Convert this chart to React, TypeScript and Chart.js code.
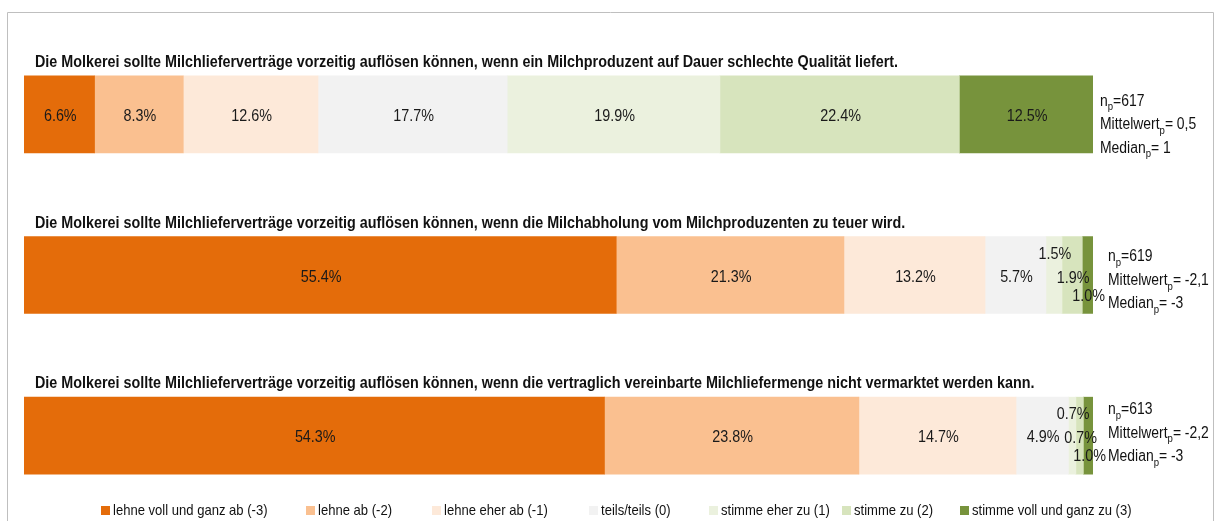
import React, { useEffect, useRef } from "react";
import { Chart, registerables } from "chart.js";

Chart.register(...registerables);

const questions = [
  "Die Molkerei sollte Milchlieferverträge vorzeitig auflösen können, wenn ein Milchproduzent auf Dauer schlechte Qualität liefert.",
  "Die Molkerei sollte Milchlieferverträge vorzeitig auflösen können, wenn die Milchabholung vom Milchproduzenten zu teuer wird.",
  "Die Molkerei sollte Milchlieferverträge vorzeitig auflösen können, wenn die vertraglich vereinbarte Milchliefermenge nicht vermarktet werden kann.",
];

const seriesLabels = [
  "lehne voll und ganz ab (-3)",
  "lehne ab (-2)",
  "lehne eher ab (-1)",
  "teils/teils (0)",
  "stimme eher zu (1)",
  "stimme zu (2)",
  "stimme voll und ganz zu (3)",
];

const lehneVollUndGanzAb = [6.6, 55.4, 54.3];
const lehneAb = [8.3, 21.3, 23.8];
const lehneEherAb = [12.6, 13.2, 14.7];
const teilsTeils = [17.7, 5.7, 4.9];
const stimmeEherZu = [19.9, 1.5, 0.7];
const stimmeZu = [22.4, 1.9, 0.7];
const stimmeVollUndGanzZu = [12.5, 1.0, 1.0];

const nValues = ["617", "619", "613"];
const meanValues = ["0,5", "-2,1", "-2,2"];
const medianValues = ["1", "-3", "-3"];

const colors = ["#E46C0A", "#FAC090", "#FDE9D9", "#F2F2F2", "#EBF1DE", "#D7E4BD", "#77933C"];

// layout (not data)
const FONT = "'Liberation Sans', Arial, sans-serif";
const NARROW = 0.87;
const statsX = [1100, 1108, 1108];
const statsOffset = [-13, -18, -26];
const legendX = [101, 306, 432, 589, 709, 842, 960];

const allSeries = [
  lehneVollUndGanzAb,
  lehneAb,
  lehneEherAb,
  teilsTeils,
  stimmeEherZu,
  stimmeZu,
  stimmeVollUndGanzZu,
];

function narrowText(ctx: CanvasRenderingContext2D, text: string, x: number, y: number) {
  ctx.save();
  ctx.translate(x, y);
  ctx.scale(NARROW, 1);
  ctx.fillText(text, 0, 0);
  ctx.restore();
}

function narrowWidth(ctx: CanvasRenderingContext2D, text: string) {
  return ctx.measureText(text).width * NARROW;
}

function drawSub(ctx: CanvasRenderingContext2D, x: number, y: number, main: string, sub: string, rest: string) {
  ctx.font = `16px ${FONT}`;
  narrowText(ctx, main, x, y);
  let w = narrowWidth(ctx, main);
  ctx.font = `11px ${FONT}`;
  narrowText(ctx, sub, x + w, y + 6);
  w += narrowWidth(ctx, sub);
  ctx.font = `16px ${FONT}`;
  narrowText(ctx, rest, x + w, y);
}

const overlayPlugin = {
  id: "overlay",
  afterDatasetsDraw(chart: any) {
    const ctx: CanvasRenderingContext2D = chart.ctx;
    ctx.save();
    ctx.fillStyle = "#1a1a1a";
    ctx.textBaseline = "middle";
    ctx.textAlign = "center";
    ctx.font = `16.5px ${FONT}`;
    const nCat = questions.length;
    for (let c = 0; c < nCat; c++) {
      let smallIdx = 0;
      for (let d = 0; d < chart.data.datasets.length; d++) {
        const meta = chart.getDatasetMeta(d);
        const el: any = meta.data[c];
        const v = chart.data.datasets[d].data[c] as number;
        const cx = (el.x + el.base) / 2;
        let cy = el.y + 2;
        if (v < 3) {
          const offs = [-21, 3, 21];
          cy = el.y + offs[smallIdx];
          smallIdx++;
        }
        narrowText(ctx, v.toFixed(1) + "%", cx + 1, cy);
      }
    }
    ctx.restore();
  },
  afterDraw(chart: any) {
    const ctx: CanvasRenderingContext2D = chart.ctx;
    const yScale = chart.scales.y;
    ctx.save();
    // frame
    ctx.strokeStyle = "#BFBFBF";
    ctx.lineWidth = 1;
    ctx.beginPath();
    ctx.moveTo(7.5, 530);
    ctx.lineTo(7.5, 12.5);
    ctx.lineTo(1213.5, 12.5);
    ctx.lineTo(1213.5, 530);
    ctx.stroke();

    ctx.fillStyle = "#111";
    ctx.textBaseline = "middle";
    ctx.textAlign = "left";
    for (let c = 0; c < questions.length; c++) {
      const cy = yScale.getPixelForValue(c);
      ctx.font = `bold 16.5px ${FONT}`;
      narrowText(ctx, questions[c], 35, cy - 52);
      const sy = cy + statsOffset[c];
      drawSub(ctx, statsX[c], sy, "n", "p", "=" + nValues[c]);
      drawSub(ctx, statsX[c], sy + 23.5, "Mittelwert", "p", "= " + meanValues[c]);
      drawSub(ctx, statsX[c], sy + 47, "Median", "p", "= " + medianValues[c]);
    }

    // legend
    ctx.font = `15px ${FONT}`;
    chart.data.datasets.forEach((ds: any, i: number) => {
      const x = legendX[i];
      ctx.fillStyle = ds.backgroundColor;
      ctx.fillRect(x, 506, 9, 9);
      ctx.fillStyle = "#111";
      narrowText(ctx, ds.label, x + 12, 510.5);
    });
    ctx.restore();
  },
};

export default function App() {
  const ref = useRef<HTMLCanvasElement | null>(null);
  useEffect(() => {
    document.body.style.margin = "0";
    const chart = new Chart(ref.current!, {
      type: "bar",
      data: {
        labels: questions,
        datasets: allSeries.map((s, i) => ({
          label: seriesLabels[i],
          data: s,
          backgroundColor: colors[i],
          borderWidth: 0,
          barThickness: 77,
        })),
      },
      options: {
        indexAxis: "y",
        animation: false,
        responsive: false,
        layout: { padding: { left: 24, right: 127, top: 34, bottom: 5 } },
        scales: {
          x: { stacked: true, min: 0, max: 100, display: false },
          y: { stacked: true, display: false, offset: true },
        },
        plugins: { legend: { display: false }, tooltip: { enabled: false } },
      },
      plugins: [overlayPlugin],
    });
    return () => chart.destroy();
  }, []);
  return <canvas ref={ref} width={1220} height={521} style={{ display: "block" }} />;
}
